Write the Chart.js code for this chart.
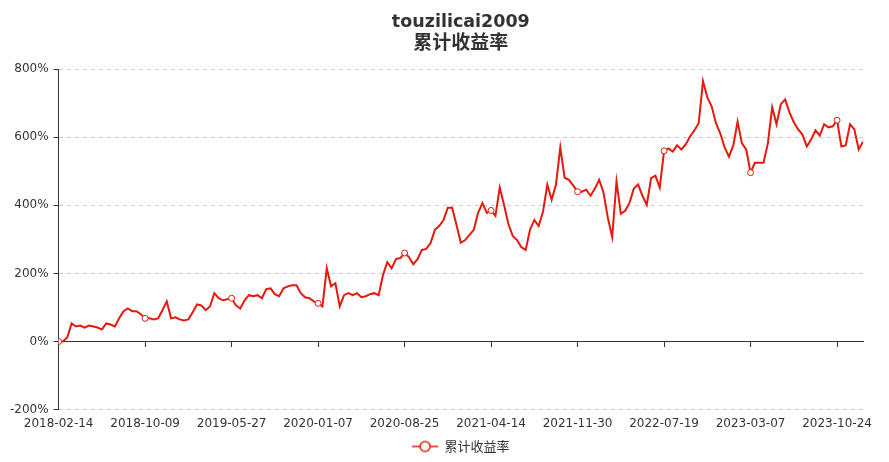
<!DOCTYPE html>
<html>
<head>
<meta charset="utf-8">
<script src="https://cdn.jsdelivr.net/npm/chart.js@4.4.0/dist/chart.umd.min.js"></script>
<style>
  html, body { margin: 0; padding: 0; background: #fff; }
  #wrap { width: 889px; height: 462px; }
</style>
</head>
<body>
<div id="wrap"><canvas id="chart" width="889" height="462"></canvas></div>
<script>
// one label every 20 points along the category axis
const tickLabels = [
  '2018-02-14', '2018-10-09', '2019-05-27', '2020-01-07', '2020-08-25',
  '2021-04-14', '2021-11-30', '2022-07-19', '2023-03-07', '2023-10-24'
];
const pointsPerTick = 20;

// 累计收益率 (%)
const returns = [
  0, 0, 12, 53, 44, 47, 41, 47, 44, 41,
  35, 53, 50, 44, 68, 89, 97, 89, 89, 80,
  68, 68, 65, 68, 92, 118, 68, 71, 65, 62,
  65, 86, 109, 106, 92, 103, 142, 127, 121, 124,
  127, 106, 97, 121, 136, 133, 136, 127, 154, 156,
  139, 133, 156, 162, 165, 165, 142, 130, 127, 118,
  112, 103, 215, 162, 171, 103, 136, 142, 136, 142,
  130, 133, 139, 142, 136, 195, 233, 215, 242, 245,
  260, 248, 227, 242, 269, 272, 289, 328, 339, 357,
  393, 393, 342, 290, 298, 313, 328, 378, 407, 378,
  385, 369, 452, 401, 345, 310, 298, 277, 269, 328,
  357, 339, 381, 461, 416, 461, 570, 481, 475, 458,
  440, 440, 446, 428, 449, 475, 437, 363, 307, 470,
  375, 384, 407, 449, 461, 428, 401, 480, 487, 452,
  560, 567, 558, 576, 564, 579, 602, 620, 641, 765,
  717, 691, 641, 611, 570, 543, 576, 646, 582, 564,
  496, 525, 525, 525, 582, 688, 638, 697, 711, 673,
  644, 623, 608, 573, 593, 620, 605, 638, 629, 632,
  650, 573, 576, 638, 623, 564, 587
];

const yTicks = { min: -200, max: 800, step: 200 };
const chartTitle = 'touzilicai2009';
const seriesName = '累计收益率';
const lineColor = '#e5190c';

function legendIcon() {
  const c = document.createElement('canvas');
  c.width = 26;
  c.height = 14;
  const g = c.getContext('2d');
  g.strokeStyle = lineColor;
  g.lineWidth = 1.5;
  g.beginPath();
  g.moveTo(0, 7);
  g.lineTo(26, 7);
  g.stroke();
  g.beginPath();
  g.arc(13, 7, 5, 0, Math.PI * 2);
  g.fillStyle = '#fff';
  g.fill();
  g.stroke();
  return c;
}

Chart.defaults.font.family = '"DejaVu Sans", "Noto Sans CJK SC", sans-serif';
Chart.defaults.font.size = 12;
Chart.defaults.color = '#333';

const lastIndex = returns.length - 1;
const points = returns.map((v, i) => ({ x: i, y: v }));

new Chart(document.getElementById('chart'), {
  type: 'line',
  data: {
    datasets: [{
      label: seriesName,
      data: points,
      borderColor: lineColor,
      borderWidth: 2,
      backgroundColor: '#fff',
      pointBorderColor: lineColor,
      pointBorderWidth: 1,
      pointRadius: ctx => (ctx.dataIndex % pointsPerTick === 0 ? 3 : 0),
      pointHoverRadius: 0,
      tension: 0,
      fill: false
    }]
  },
  options: {
    responsive: false,
    animation: false,
    layout: { padding: { left: 5, right: 26, top: 2, bottom: -1 } },
    plugins: {
      // title, subtitle and legend are centred over the plot, not the canvas
      title: {
        display: true,
        fullSize: false,
        text: chartTitle,
        color: '#333',
        font: { family: '"DejaVu Sans", sans-serif', size: 17.5, weight: 'bold', lineHeight: 1.15 },
        padding: { top: 10, bottom: 0 }
      },
      subtitle: {
        display: true,
        fullSize: false,
        text: seriesName,
        color: '#333',
        font: { family: '"Noto Sans CJK SC", sans-serif', size: 19, weight: 'bold', lineHeight: 1 },
        padding: { top: 0, bottom: 18 }
      },
      legend: {
        position: 'bottom',
        fullSize: false,
        labels: {
          usePointStyle: true,
          pointStyle: legendIcon(),
          pointStyleWidth: 26,
          padding: 10,
          color: '#333',
          font: { family: '"Noto Sans CJK SC", sans-serif', size: 13 }
        }
      },
      tooltip: { enabled: false }
    },
    scales: {
      x: {
        type: 'linear',
        min: 0,
        max: lastIndex,
        grid: { display: false },
        border: { display: false },
        ticks: {
          stepSize: pointsPerTick,
          includeBounds: false,
          autoSkip: false,
          maxRotation: 0,
          padding: -1,
          callback: v => tickLabels[v / pointsPerTick]
        }
      },
      x0: {
        type: 'linear',
        position: { y: 0 },
        min: 0,
        max: lastIndex,
        grid: { drawOnChartArea: false, drawTicks: true, tickLength: 5, tickColor: '#333' },
        border: { display: true, color: '#333', width: 1 },
        ticks: { stepSize: pointsPerTick, includeBounds: false, display: false }
      },
      y: {
        min: yTicks.min,
        max: yTicks.max,
        grid: { color: '#ccc', tickColor: '#333', tickLength: 5, tickBorderDash: [] },
        border: { display: true, color: '#333', dash: [4, 4] },
        ticks: {
          stepSize: yTicks.step,
          padding: 5,
          callback: v => v + '%'
        }
      }
    }
  }
});
</script>
</body>
</html>
